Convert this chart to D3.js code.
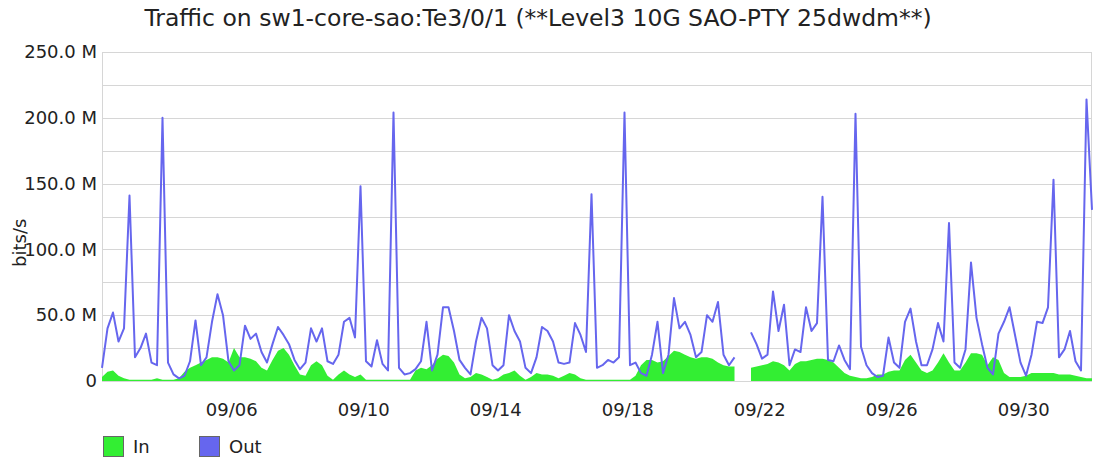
<!DOCTYPE html>
<html>
<head>
<meta charset="utf-8">
<script src="https://cdn.jsdelivr.net/npm/d3@7"></script>
<style>
  body { margin: 0; background: #fff; }
  svg { display: block; font-family: "DejaVu Sans", sans-serif; }
</style>
</head>
<body>
<div id="chart"></div>
<script>
const TITLE = "Traffic on sw1-core-sao:Te3/0/1 (**Level3 10G SAO-PTY 25dwdm**)";
const Y_LABEL = "bits/s";

// samples every 4 hours from 09/02 02:00, values in Mbit/s
const startTime = new Date(2023, 8, 2, 2, 0);
const stepHours = 4;

const outMbps = [
  10, 40, 52, 30, 40, 141, 18, 25, 36, 14, 12,
  200, 14, 5, 2, 4, 15, 46, 12, 18, 45,
  66, 50, 15, 8, 12, 42, 32, 36, 22, 14,
  28, 41, 35, 28, 16, 9, 14, 40, 30, 40,
  15, 13, 20, 45, 48, 33, 148, 15, 11, 31,
  13, 8, 204, 10, 5, 6, 9, 15, 45, 8,
  20, 56, 56, 38, 16, 10, 5, 30, 48, 40,
  12, 8, 12, 50, 38, 30, 10, 6, 18, 41,
  38, 30, 14, 13, 14, 44, 35, 22, 142, 10,
  12, 16, 14, 18, 204, 12, 14, 6, 4, 20,
  45, 6, 20, 63, 40, 45, 35, 18, 22, 50,
  45, 60, 20, 12, 18, null, null, 37, 28, 17,
  20, 68, 38, 58, 12, 24, 22, 56, 38, 44,
  140, 16, 15, 27, 16, 9, 203, 26, 12, 6,
  3, 4, 33, 14, 10, 45, 55, 30, 12, 12,
  24, 44, 30, 120, 14, 10, 24, 90, 48, 28,
  10, 5, 36, 45, 56, 35, 14, 4, 20, 45,
  44, 56, 153, 18, 24, 38, 15, 8, 214, 130,
];

const inMbps = [
  3, 7, 8, 4, 2, 1, 1, 1, 1, 1, 2,
  1, 1, 1, 2, 7, 10, 12, 14, 16, 18,
  18, 17, 14, 25, 18, 18, 17, 15, 10, 8,
  16, 23, 25, 20, 12, 5, 4, 12, 15, 12,
  4, 1, 5, 8, 5, 3, 5, 1, 1, 1,
  1, 1, 1, 1, 1, 1, 8, 10, 9, 12,
  17, 20, 19, 14, 5, 2, 3, 6, 5, 3,
  1, 2, 5, 6, 8, 4, 1, 3, 6, 5,
  5, 4, 2, 4, 6, 5, 2, 1, 1, 1,
  1, 1, 1, 1, 1, 1, 4, 12, 16, 16,
  14, 15, 19, 23, 22, 20, 18, 17, 18, 18,
  17, 14, 12, 11, 11, null, null, 10, 11, 12,
  13, 15, 14, 12, 8, 13, 15, 15, 16, 17,
  17, 16, 14, 10, 6, 4, 3, 2, 2, 3,
  5, 5, 7, 8, 8, 16, 20, 14, 8, 6,
  8, 14, 21, 14, 8, 8, 14, 21, 21, 20,
  12, 18, 16, 6, 3, 3, 3, 4, 6, 6,
  6, 6, 6, 5, 5, 5, 4, 3, 2, 2,
];

const yTicks = [0, 50, 100, 150, 200, 250];
const yGrid = [25, 75, 125, 175, 225];
const xLabelDates = ["2023-09-06", "2023-09-10", "2023-09-14", "2023-09-18",
  "2023-09-22", "2023-09-26", "2023-09-30"];
const legendItems = [
  { name: "In", color: "#33ee33" },
  { name: "Out", color: "#6666ee" },
];

const width = 1094;
const height = 459;
const margin = { top: 52, right: 2, bottom: 78, left: 102 };
const innerWidth = width - margin.left - margin.right;
const innerHeight = height - margin.top - margin.bottom;

const points = outMbps.map((v, i) => ({
  t: d3.timeHour.offset(startTime, i * stepHours),
  out: v,
  in: inMbps[i],
}));

const x = d3.scaleTime()
  .domain([startTime, d3.timeHour.offset(startTime, (outMbps.length - 1) * stepHours)])
  .range([0, innerWidth]);
const y = d3.scaleLinear().domain([0, 250]).range([innerHeight, 0]);

const svg = d3.select("#chart").append("svg")
  .attr("width", width).attr("height", height);

svg.append("text")
  .attr("x", 538).attr("y", 26)
  .attr("text-anchor", "middle")
  .attr("font-size", 23.5)
  .attr("fill", "#222")
  .text(TITLE);

const plot = svg.append("g").attr("transform", `translate(${margin.left},${margin.top})`);

// grid
const gridDays = d3.timeDay.every(2).range(d3.timeDay.ceil(startTime), x.domain()[1]);
const grid = plot.append("g").attr("stroke", "#d6d6d6").attr("stroke-width", 1);
grid.selectAll(".vg").data(gridDays.filter((d) => d.getDate() % 2 === 0)).join("line")
  .attr("x1", (d) => Math.round(x(d)) + 0.5).attr("x2", (d) => Math.round(x(d)) + 0.5)
  .attr("y1", 0).attr("y2", innerHeight);
grid.selectAll(".hg").data(yTicks.concat(yGrid)).join("line")
  .attr("x1", 0).attr("x2", innerWidth)
  .attr("y1", (d) => Math.round(y(d)) + 0.5).attr("y2", (d) => Math.round(y(d)) + 0.5);
grid.append("line").attr("x1", 0.5).attr("x2", 0.5).attr("y1", 0).attr("y2", innerHeight);
grid.append("line").attr("x1", innerWidth - 0.5).attr("x2", innerWidth - 0.5).attr("y1", 0).attr("y2", innerHeight);

// series
const area = d3.area()
  .defined((d) => d.in != null)
  .x((d) => x(d.t))
  .y0(y(0))
  .y1((d) => y(d.in));
plot.append("path").datum(points)
  .attr("d", area)
  .attr("fill", legendItems[0].color);

const line = d3.line()
  .defined((d) => d.out != null)
  .x((d) => x(d.t))
  .y((d) => y(d.out));
plot.append("path").datum(points)
  .attr("d", line)
  .attr("fill", "none")
  .attr("stroke", legendItems[1].color)
  .attr("stroke-width", 2)
  .attr("stroke-linejoin", "round");

// axes
const parse = d3.timeParse("%Y-%m-%d");
const axisY = plot.append("g")
  .call(d3.axisLeft(y).tickValues(yTicks).tickSize(0).tickPadding(5)
    .tickFormat((d) => (d === 0 ? "0" : d3.format(".1f")(d) + " M")));
axisY.select(".domain").remove();
axisY.selectAll("text").attr("font-size", 18).attr("fill", "#222")
  .attr("font-family", "DejaVu Sans, sans-serif");

const axisX = plot.append("g").attr("transform", `translate(0,${innerHeight})`)
  .call(d3.axisBottom(x).tickValues(xLabelDates.map(parse)).tickSize(0).tickPadding(22)
    .tickFormat(d3.timeFormat("%m/%d")));
axisX.select(".domain").remove();
axisX.selectAll("text").attr("font-size", 18).attr("fill", "#222")
  .attr("font-family", "DejaVu Sans, sans-serif");

svg.append("text")
  .attr("transform", `translate(26,${margin.top + y(105)}) rotate(-90)`)
  .attr("text-anchor", "middle")
  .attr("font-size", 18)
  .attr("fill", "#222")
  .text(Y_LABEL);

// legend
const legend = svg.append("g").attr("transform", "translate(103,436)");
const item = legend.selectAll("g").data(legendItems).join("g")
  .attr("transform", (d, i) => `translate(${i * 96},0)`);
item.append("rect")
  .attr("x", 0.5).attr("y", 0.5).attr("width", 20).attr("height", 20)
  .attr("fill", (d) => d.color).attr("stroke", "#666");
item.append("text")
  .attr("x", 30).attr("y", 17)
  .attr("font-size", 18).attr("fill", "#222")
  .text((d) => d.name);
</script>
</body>
</html>
